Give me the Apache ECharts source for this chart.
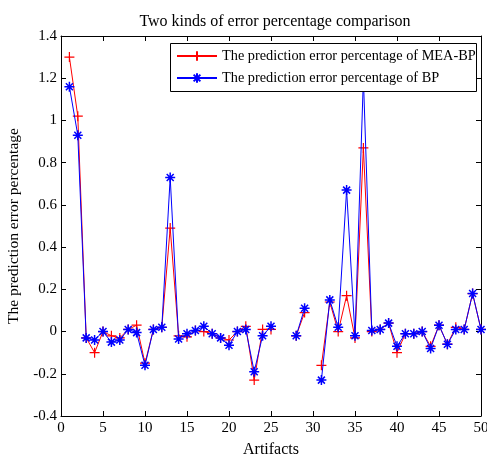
<!DOCTYPE html>
<html>
<head>
<meta charset="utf-8">
<script src="https://cdn.jsdelivr.net/npm/echarts@6/dist/echarts.min.js"></script>
<style>html,body{margin:0;padding:0;background:#fff;}#c{width:487px;height:455px;}</style>
</head>
<body>
<div id="c"></div>
<script>
const artifacts = [1,2,3,4,5,6,7,8,9,10,11,12,13,14,15,16,17,18,19,20,21,22,23,24,25,26,27,28,29,30,31,32,33,34,35,36,37,38,39,40,41,42,43,44,45,46,47,48,49,50];
const meaBP = [1.30,1.02,-0.03,-0.10,0.00,-0.02,-0.03,0.01,0.03,-0.15,0.01,0.02,0.49,-0.02,-0.025,0.005,0.00,-0.01,-0.03,-0.04,0.00,0.025,-0.23,0.01,0.01,null,null,-0.02,0.09,null,-0.16,0.14,0.00,0.17,-0.03,0.87,0.00,0.01,0.04,-0.10,-0.01,-0.01,0.00,-0.07,0.03,-0.06,0.02,0.01,0.18,0.01];
const bp = [1.16,0.93,-0.03,-0.04,0.00,-0.05,-0.04,0.01,-0.005,-0.16,0.01,0.02,0.73,-0.035,-0.01,0.005,0.025,-0.01,-0.03,-0.065,0.00,0.01,-0.19,-0.02,0.025,null,null,-0.02,0.11,null,-0.23,0.15,0.02,0.67,-0.02,1.20,0.005,0.01,0.04,-0.07,-0.01,-0.01,0.00,-0.08,0.03,-0.06,0.01,0.01,0.18,0.01];
const seriesNames = ['The prediction error percentage of MEA-BP','The prediction error percentage of BP'];
const titleText = 'Two kinds of error percentage comparison';
const xName = 'Artifacts';
const yName = 'The prediction error percentage';

const font = "'Liberation Serif','Times New Roman',serif";
const pair = arr => artifacts.map((x,i)=>[x, arr[i]]);
const plusPath = 'path://M0,-1L0,1M-1,0L1,0';
const starPath = 'path://M0,-1L0,1M-1,0L1,0M-0.7,-0.7L0.7,0.7M-0.7,0.7L0.7,-0.7';

const axisCommon = {
  axisLine:{show:true,onZero:false,lineStyle:{color:'#000',width:1}},
  axisTick:{show:true,inside:true,length:5,lineStyle:{color:'#000'}},
  splitLine:{show:false}
};

const chart = echarts.init(document.getElementById('c'));
chart.setOption({
  animation:false,
  backgroundColor:'#fff',
  title:{text:titleText,left:270,textAlign:'center',top:9,textStyle:{fontFamily:font,fontSize:16,fontWeight:'normal',color:'#000'}},
  graphic:[{type:'rect',left:170,top:43,z:50,silent:true,
    shape:{width:306,height:48},style:{fill:'#fff',stroke:'#000',lineWidth:1}}],
  legend:{
    orient:'vertical',left:170,top:43,z:100,
    padding:[6,4,6,6],itemGap:8,itemWidth:40,itemHeight:12,
    textStyle:{fontFamily:font,fontSize:14.3,color:'#000'},
    data:seriesNames
  },
  grid:{left:61,right:6,top:36,bottom:39,containLabel:false,outerBoundsMode:'none'},
  xAxis:[
    Object.assign({type:'value',min:0,max:50,interval:5,position:'bottom',name:xName,nameLocation:'middle',nameGap:26,
      nameTextStyle:{fontFamily:font,fontSize:16,color:'#000'},
      axisLabel:{margin:5,fontFamily:font,fontSize:15,color:'#000'}},axisCommon),
    Object.assign({type:'value',min:0,max:50,interval:5,position:'top',axisLabel:{show:false}},axisCommon)
  ],
  yAxis:[
    Object.assign({type:'value',min:-0.4,max:1.4,interval:0.2,position:'left',name:yName,nameLocation:'middle',nameGap:31,
      nameTextStyle:{fontFamily:font,fontSize:15.5,color:'#000'},
      axisLabel:{margin:4,fontFamily:font,fontSize:15,color:'#000',formatter:v=>String(Math.round(v*10)/10)}},axisCommon),
    Object.assign({type:'value',min:-0.4,max:1.4,interval:0.2,position:'right',axisLabel:{show:false}},axisCommon)
  ],
  series:[
    {name:seriesNames[0],type:'line',data:pair(meaBP),connectNulls:false,
      symbol:plusPath,symbolSize:10,showAllSymbol:true,
      lineStyle:{color:'#ff0000',width:1},
      itemStyle:{color:'#ff0000',borderColor:'#ff0000',borderWidth:1.2},
      z:2},
    {name:seriesNames[1],type:'line',data:pair(bp),connectNulls:false,
      symbol:starPath,symbolSize:10,showAllSymbol:true,
      lineStyle:{color:'#0000ff',width:1},
      itemStyle:{color:'#0000ff',borderColor:'#0000ff',borderWidth:1.5},
      z:3}
  ]
});
</script>
</body>
</html>
